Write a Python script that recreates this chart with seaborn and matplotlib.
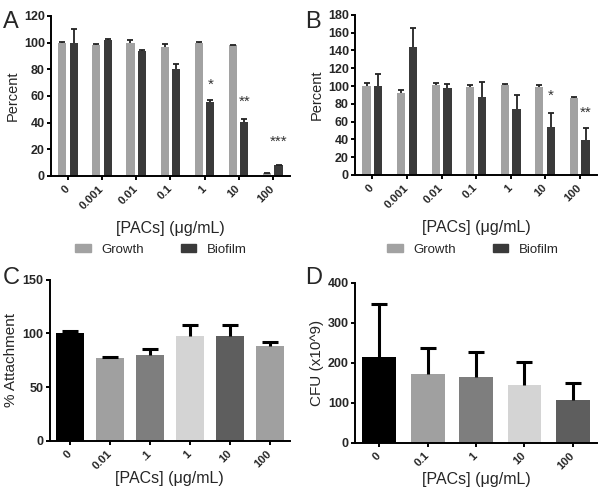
import numpy as np
import pandas as pd
import matplotlib
matplotlib.use('Agg')
import matplotlib.pyplot as plt
import matplotlib.patches as mpatches
import seaborn as sns

# panel A / B : growth vs biofilm
conc_ab = ['0', '0.001', '0.01', '0.1', '1', '10', '100']
a_growth = [100, 98, 100, 97, 100, 98, 2]
a_growth_err = [0.6, 0.6, 2, 2, 0.8, 0.5, 0.5]
a_biofilm = [100, 102, 94, 80, 55.5, 40.5, 8]
a_biofilm_err = [10, 1, 0.5, 4, 1.5, 2, 0.5]
a_stars = ['', '', '', '', '*', '**', '***']
a_star_y = [0, 0, 0, 0, 63, 50, 20]

b_growth = [100, 92.5, 101, 99, 101, 98.5, 87]
b_growth_err = [3, 3, 2, 2, 0.8, 3, 0.5]
b_biofilm = [100, 144, 98, 88, 74, 54, 39.5]
b_biofilm_err = [14, 21, 4, 17, 16, 16, 13]
b_stars = ['', '', '', '', '', '*', '**']
b_star_y = [0, 0, 0, 0, 0, 81, 62]

# panel C : attachment
conc_c = ['0', '0.01', '.1', '1', '10', '100']
c_vals = [100, 77, 80, 98, 98, 88]
c_err = [2, 1, 6, 10, 10, 4]

# panel D : CFU
conc_d = ['0', '0.1', '1', '10', '100']
d_vals = [215, 173, 165, 145, 108]
d_err = [133, 63, 62, 57, 42]

grey_growth = '#a2a2a2'
grey_biofilm = '#3a3a3a'
c_colors = ['#000000', '#a0a0a0', '#7e7e7e', '#d4d4d4', '#5e5e5e', '#a0a0a0']
d_colors = ['#000000', '#a0a0a0', '#7e7e7e', '#d4d4d4', '#5e5e5e']

sns.set_style('ticks')
plt.rcParams['font.family'] = ['Liberation Sans', 'DejaVu Sans']

fig = plt.figure(figsize=(6, 4.97), dpi=100)
axA = fig.add_axes([0.085, 0.646, 0.398, 0.322])
axB = fig.add_axes([0.592, 0.648, 0.403, 0.322])
axC = fig.add_axes([0.083, 0.113, 0.400, 0.324])
axD = fig.add_axes([0.592, 0.109, 0.403, 0.322])


def style_axis(ax, ylabel, ylim, yticks, ysize, xlab_y):
    ax.set_ylim(*ylim)
    ax.set_yticks(yticks)
    ax.set_ylabel(ylabel, fontsize=ysize, labelpad=3)
    ax.set_xlabel('[PACs] (\u03bcg/mL)', fontsize=11.5)
    ax.xaxis.set_label_coords(0.5, xlab_y)
    for lab in ax.get_yticklabels():
        lab.set_fontweight('bold')
        lab.set_fontsize(9)
    plt.setp(ax.get_xticklabels(), rotation=45, ha='right', va='center',
             rotation_mode='anchor', fontweight='bold', fontsize=8.2)
    sns.despine(ax=ax)
    for sp in ['left', 'bottom']:
        ax.spines[sp].set_linewidth(1.4)
        ax.spines[sp].set_color('black')
    ax.tick_params(axis='both', width=1.4, length=3, color='black', pad=1.5)
    ax.tick_params(axis='x', pad=5)


def upper_err(ax, xs, vals, errs, color, lw, cap):
    _, caps, _ = ax.errorbar(xs, vals, yerr=[np.zeros(len(vals)), errs], fmt='none',
                             ecolor=color, elinewidth=lw, capsize=cap, capthick=lw)
    caps[0].set_visible(False)


def grouped(ax, growth, g_err, biofilm, b_err, stars, star_y):
    df = pd.DataFrame({
        'conc': conc_ab * 2,
        'value': growth + biofilm,
        'type': ['Growth'] * len(conc_ab) + ['Biofilm'] * len(conc_ab),
    })
    sns.barplot(data=df, x='conc', y='value', hue='type', order=conc_ab,
                palette=[grey_growth, grey_biofilm], width=0.68, gap=0.3,
                errorbar=None, legend=False, ax=ax, linewidth=0)
    for cont, vals, errs in zip(ax.containers, [growth, biofilm], [g_err, b_err]):
        xs = [p.get_x() + p.get_width() / 2 for p in cont.patches]
        upper_err(ax, xs, vals, errs, '#222222', 1.3, 2.5)
    bio_x = [p.get_x() + p.get_width() / 2 for p in ax.containers[1].patches]
    for x, s, y in zip(bio_x, stars, star_y):
        if s:
            ax.text(x, y, s, ha='center', va='bottom', fontsize=11, color='#333333')
    ax.set_xlim(-0.5, len(conc_ab) - 0.5)


grouped(axA, a_growth, a_growth_err, a_biofilm, a_biofilm_err, a_stars, a_star_y)
style_axis(axA, 'Percent', (0, 120), np.arange(0, 121, 20), 10.5, -0.28)

grouped(axB, b_growth, b_growth_err, b_biofilm, b_biofilm_err, b_stars, b_star_y)
style_axis(axB, 'Percent', (0, 180), np.arange(0, 181, 20), 10.5, -0.28)

sns.barplot(x=conc_c, y=c_vals, hue=conc_c, palette=c_colors, width=0.7,
            legend=False, ax=axC, linewidth=0)
upper_err(axC, range(len(conc_c)), c_vals, c_err, 'black', 2.2, 5.5)
axC.set_xlim(-0.5, len(conc_c) - 0.5)
style_axis(axC, '% Attachment', (0, 150), [0, 50, 100, 150], 11, -0.19)

sns.barplot(x=conc_d, y=d_vals, hue=conc_d, palette=d_colors, width=0.7,
            legend=False, ax=axD, linewidth=0)
upper_err(axD, range(len(conc_d)), d_vals, d_err, 'black', 2.2, 5.5)
axD.set_xlim(-0.5, len(conc_d) - 0.5)
style_axis(axD, 'CFU (x10^9)', (0, 400), [0, 100, 200, 300, 400], 11, -0.18)

# legends under A and B
handles = [mpatches.Patch(color=grey_growth, label='Growth'),
           mpatches.Patch(color=grey_biofilm, label='Biofilm')]
for cx in [0.268, 0.788]:
    fig.legend(handles=handles, loc='center', bbox_to_anchor=(cx, 0.497), ncol=2,
               frameon=False, fontsize=9.5, handlelength=1.2, handleheight=0.55,
               columnspacing=2.8, handletextpad=0.8)

# panel letters
for x, y, t in [(0.005, 0.978, 'A'), (0.508, 0.978, 'B'), (0.005, 0.462, 'C'), (0.508, 0.462, 'D')]:
    fig.text(x, y, t, fontsize=17, ha='left', va='top')

fig.savefig('out.png', dpi=100)
